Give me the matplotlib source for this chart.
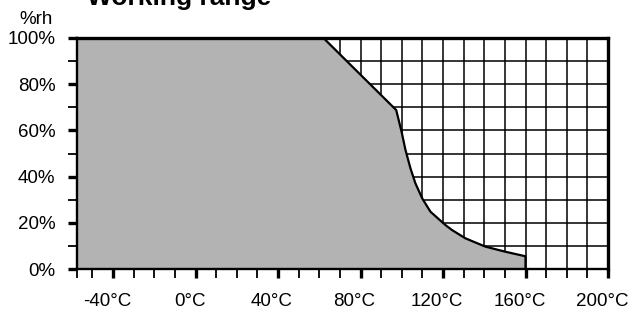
import matplotlib
matplotlib.use("Agg")
import matplotlib.pyplot as plt
from matplotlib.transforms import ScaledTranslation

plt.rcParams['font.family'] = ['Liberation Sans', 'DejaVu Sans']

# working range boundary (degC, %rh)
temp_c = [62, 97.3, 99.9, 101.8, 104.2, 106.6, 109.9, 113.9, 121.2, 124.3, 130.8, 140.5, 150.1, 160, 160]
rh_pct = [100, 68.8, 59.4, 51.5, 43.6, 37.1, 30.6, 24.8, 19, 16.9, 13.3, 9.7, 7.5, 5.5, 0]

x_min, x_max = -57.5, 199.5
x_major = [-40, 0, 40, 80, 120, 160, 200]
x_labels = ['-40°C', '0°C', '40°C', '80°C', '120°C', '160°C', '200°C']
y_major = [0, 20, 40, 60, 80, 100]
y_labels = ['0%', '20%', '40%', '60%', '80%', '100%']

fig = plt.figure(figsize=(6.31, 3.11), dpi=100)
ax = fig.add_axes([77/631, 1 - 269/311, (608 - 77)/631, (269 - 38)/311])

# gray area under the limit curve
poly_x = [x_min] + temp_c + [x_min]
poly_y = [100] + rh_pct + [0]
ax.fill(poly_x, poly_y, color='#b3b3b3', lw=0, zorder=1)
ax.plot(temp_c, rh_pct, color='black', lw=1.6, zorder=2, solid_joinstyle='round')

ax.set_xlim(x_min, x_max)
ax.set_ylim(0, 100)

ax.set_xticks(x_major)
ax.set_xticklabels(x_labels)
ax.set_xticks([x_min] + list(range(-50, 200, 10)), minor=True)
ax.set_yticks(y_major)
ax.set_yticklabels(y_labels)
ax.set_yticks(list(range(10, 100, 20)), minor=True)

# grid every 10 in both directions (only shows outside the gray area)
for gx in range(-50, 200, 10):
    ax.axvline(gx, color='black', lw=1.1, zorder=0.5)
for gy in range(10, 100, 10):
    ax.axhline(gy, color='black', lw=1.1, zorder=0.5)

ax.tick_params(axis='both', which='major', direction='out', length=6.5, width=2.4,
               labelsize=13.5, color='black')
ax.tick_params(axis='both', which='minor', direction='out', length=6.5, width=1.3)
ax.tick_params(axis='x', which='major', pad=11)
ax.tick_params(axis='y', which='major', pad=9)

for lab in ax.get_xticklabels():
    lab.set_transform(lab.get_transform() + ScaledTranslation(-6/100, 0, fig.dpi_scale_trans))

ax.spines['top'].set_linewidth(2.4)
ax.spines['right'].set_linewidth(2.4)
ax.spines['left'].set_linewidth(1.7)
ax.spines['bottom'].set_linewidth(1.7)
for sp in ax.spines.values():
    sp.set_zorder(3)

fig.text(87/631, 1 - 5/311, 'Working range', fontsize=19, fontweight='bold', va='baseline')
fig.text(53/631, 1 - 19/311, '%rh', fontsize=13.5, ha='right', va='center')

fig.savefig('out.png', dpi=100)
